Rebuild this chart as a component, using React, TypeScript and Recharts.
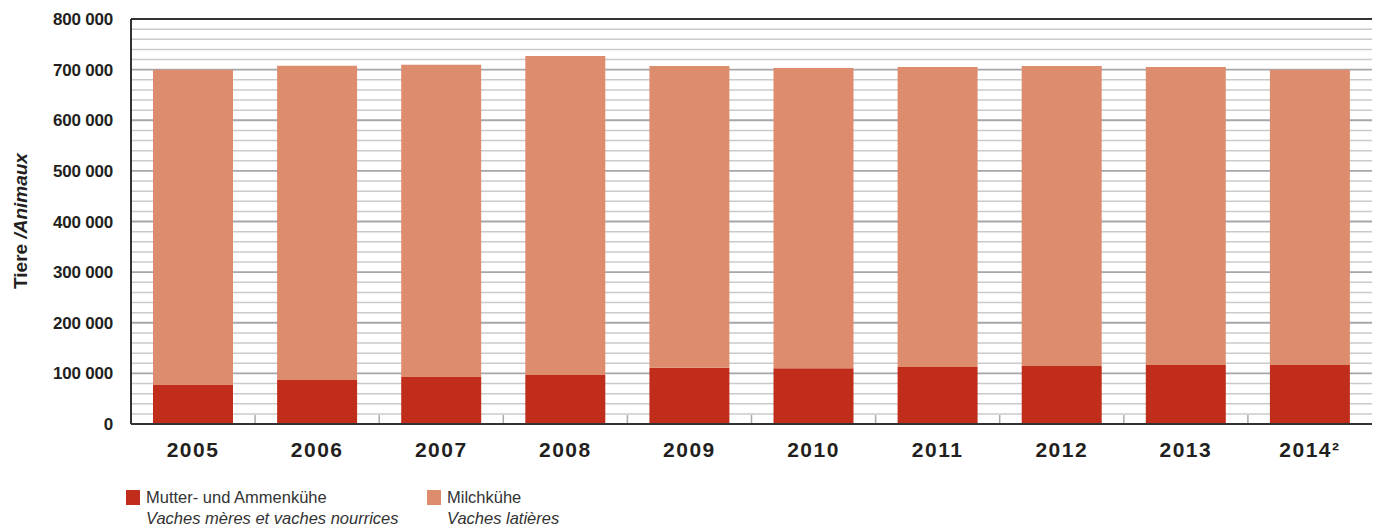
import { BarChart, Bar, XAxis, YAxis, CartesianGrid, ReferenceLine, Label } from "recharts";

const years = ["2005", "2006", "2007", "2008", "2009", "2010", "2011", "2012", "2013", "2014²"];
const mutterkuehe = [77000, 87000, 93000, 97000, 111000, 110000, 112500, 114500, 116500, 116500];
const milchkuehe = [623000, 620500, 616500, 630000, 596000, 593000, 592500, 592500, 588500, 583500];

const yMajorTicks = [0, 100000, 200000, 300000, 400000, 500000, 600000, 700000, 800000];
const yGridTicks = Array.from({ length: 41 }, (_, i) => i * 20000);
const categoryBounds = [1, 2, 3, 4, 5, 6, 7, 8, 9];

const legendItems = [
  { de: "Mutter- und Ammenkühe", fr: "Vaches mères et vaches nourrices", color: "#c02e1b" },
  { de: "Milchkühe", fr: "Vaches latières", color: "#de8c6e" },
];

const data = years.map((y, i) => ({ year: y, mutter: mutterkuehe[i], milch: milchkuehe[i] }));

const FONT = "'Liberation Sans', Arial, sans-serif";
const TEXT = "#231f20";

const fmt = (v: number) => (v === 0 ? "0" : `${Math.round(v / 1000)} 000`);

function AxisTitle() {
  return (
    <text
      x={27}
      y={221}
      transform="rotate(-90 27 221)"
      textAnchor="middle"
      fontFamily={FONT}
      fontSize={19}
      fontWeight="bold"
      fill={TEXT}
    >
      <tspan>Tiere</tspan>
      <tspan fontStyle="italic"> /Animaux</tspan>
    </text>
  );
}

// grid: light minor lines every 20 000, darker lines every 100 000
const renderHLine = (p: any) => {
  const major = p.index % 5 === 0;
  return (
    <line
      key={p.key}
      x1={p.x1}
      x2={p.x2}
      y1={p.y1}
      y2={p.y2}
      stroke={major ? "#a6a6ab" : "#cacaca"}
      strokeWidth={major ? 1.8 : 1.5}
    />
  );
};

// short ticks at the category boundaries, pointing up from the x axis
const renderVLine = (p: any) => (
  <line key={p.key} x1={p.x1} x2={p.x2} y1={p.y2 - 9} y2={p.y2} stroke="#aaaaaa" strokeWidth={1.5} />
);

export default function App() {
  return (
    <div style={{ position: "absolute", left: 0, top: 0, width: 1381, height: 528, background: "#fff" }}>
      <BarChart width={1381} height={470} data={data} margin={{ top: 19, right: 9, left: 0, bottom: 0 }}>
        <CartesianGrid
          horizontal={renderHLine}
          vertical={renderVLine}
          verticalCoordinatesGenerator={({ offset }: any) =>
            categoryBounds.map((i) => offset.left + (i * offset.width) / years.length)
          }
          syncWithTicks
        />
        <XAxis
          dataKey="year"
          height={46}
          axisLine={{ stroke: "#333", strokeWidth: 2 }}
          tickLine={false}
          tickMargin={12}
          tick={{ fontFamily: FONT, fontSize: 21, fontWeight: "bold", fill: TEXT, letterSpacing: 1.5 }}
        />
        <YAxis
          width={131}
          domain={[0, 800000]}
          ticks={yGridTicks}
          interval={0}
          tickFormatter={(v: number) => (yMajorTicks.includes(v) ? fmt(v) : "")}
          axisLine={{ stroke: "#333", strokeWidth: 2 }}
          tickLine={false}
          tickMargin={12}
          tick={{ fontFamily: FONT, fontSize: 17, fontWeight: "bold", fill: TEXT, letterSpacing: -0.2 }}
        >
          <Label content={<AxisTitle />} />
        </YAxis>
        <YAxis
          yAxisId="right"
          orientation="right"
          width={0}
          domain={[0, 800000]}
          tick={false}
          tickLine={false}
          axisLine={{ stroke: "#333", strokeWidth: 2 }}
        />
        <ReferenceLine y={800000} stroke="#333" strokeWidth={2} />
        <Bar dataKey="mutter" stackId="a" fill="#c02e1b" barSize={80} isAnimationActive={false} />
        <Bar dataKey="milch" stackId="a" fill="#de8c6e" barSize={80} isAnimationActive={false} />
      </BarChart>
      <div style={{ position: "absolute", top: 487, left: 126, display: "flex", fontFamily: FONT, color: TEXT }}>
        {legendItems.map((it, i) => (
          <div key={i} style={{ display: "flex", width: 301 }}>
            <div style={{ width: 14, height: 15, background: it.color, marginTop: 3, marginRight: 6 }} />
            <div style={{ fontSize: 16.5, lineHeight: "21px", color: "#333" }}>
              <div>{it.de}</div>
              <div style={{ fontStyle: "italic" }}>{it.fr}</div>
            </div>
          </div>
        ))}
      </div>
    </div>
  );
}
